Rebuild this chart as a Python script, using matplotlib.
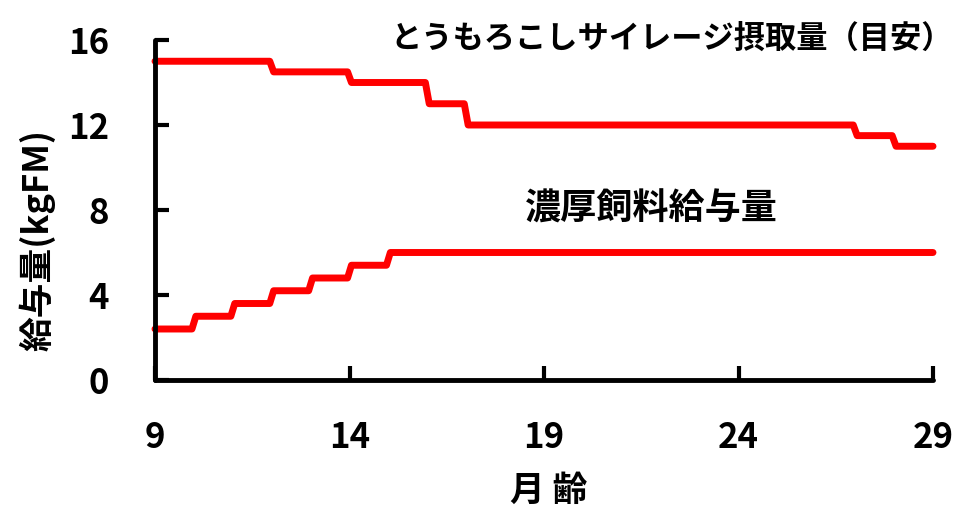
import matplotlib
matplotlib.use("Agg")
import matplotlib.pyplot as plt

plt.rcParams['font.family'] = ['Noto Sans CJK JP', 'DejaVu Sans']

# Feeding levels by age in months: each level holds between consecutive breakpoints
silage_breaks = [9, 12, 14, 16, 17, 27, 28, 29]
silage_values = [15.0, 14.5, 14.0, 13.0, 12.0, 11.5, 11.0]

concentrate_breaks = [9, 10, 11, 12, 13, 14, 15, 29]
concentrate_values = [2.4, 3.0, 3.6, 4.2, 4.8, 5.4, 6.0]

x_ticks = [9, 14, 19, 24, 29]
y_ticks = [0, 4, 8, 12, 16]

title_silage = 'とうもろこしサイレージ摂取量（目安）'
title_concentrate = '濃厚飼料給与量'
x_label = '月 齢'
y_label = '給与量(kgFM)'

RAMP = 0.1  # width of the short slanted transition between levels


def step_path(breaks, values):
    xs, ys = [], []
    n = len(values)
    for i, v in enumerate(values):
        x0 = breaks[i] + (RAMP / 2 if i > 0 else 0)
        x1 = breaks[i + 1] - (RAMP / 2 if i < n - 1 else 0)
        xs += [x0, x1]
        ys += [v, v]
    return xs, ys


fig = plt.figure(figsize=(9.6, 5.08), dpi=100)
ax = fig.add_axes([155 / 960, 1 - 380 / 508, (933 - 155) / 960, (380 - 40) / 508])

for b, v in ((silage_breaks, silage_values), (concentrate_breaks, concentrate_values)):
    xs, ys = step_path(b, v)
    ax.plot(xs, ys, color='#ff0000', lw=5, solid_capstyle='round',
            solid_joinstyle='round', clip_on=False)

ax.set_xlim(9, 29)
ax.set_ylim(0, 16)
ax.set_xticks(x_ticks)
ax.set_yticks(y_ticks)
ax.set_xticklabels([str(t) for t in x_ticks], fontsize=25, fontweight='bold')
ax.set_yticklabels([str(t) for t in y_ticks], fontsize=25, fontweight='bold')
ax.tick_params(direction='in', length=10, width=3, color='black')
ax.tick_params(axis='x', pad=29)
ax.tick_params(axis='y', pad=33)

for side in ('top', 'right'):
    ax.spines[side].set_visible(False)
for side in ('left', 'bottom'):
    ax.spines[side].set_linewidth(3.5)
    ax.spines[side].set_capstyle('round')

ax.text(15.05, 16.05, title_silage, fontsize=22.5, fontweight='bold', ha='left', va='center')
ax.text(21.75, 8.05, title_concentrate, fontsize=26, fontweight='bold', ha='center', va='center')

fig.text(549 / 960, 1 - 490 / 508, x_label, fontsize=25, fontweight='bold', ha='center', va='center')
fig.text(37 / 960, 1 - 240 / 508, y_label, fontsize=25, fontweight='bold', ha='center', va='center',
         rotation=90)

fig.savefig('out.png', dpi=100)
